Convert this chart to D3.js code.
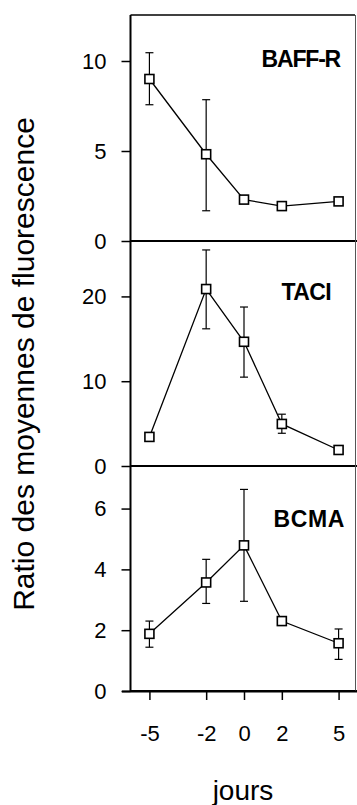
<!DOCTYPE html>
<html>
<head>
<meta charset="utf-8">
<script src="https://cdnjs.cloudflare.com/ajax/libs/d3/7.8.5/d3.min.js"></script>
<style>
  body { margin: 0; background: #fff; }
  svg { display: block; font-family: Arial, "Liberation Sans", sans-serif; }
</style>
</head>
<body>
<script>
const days = [-5, -2, 0, 2, 5];
const xTicks = [-5, -2, 0, 2, 5];

// BAFF-R
const baffMean = [9.0, 4.82, 2.3, 1.94, 2.2];
const baffHi = [10.46, 7.85, null, null, null];
const baffLo = [7.57, 1.68, null, null, null];
// TACI
const taciMean = [3.43, 20.87, 14.65, 4.96, 1.89];
const taciHi = [null, 25.48, 18.75, 6.11, null];
const taciLo = [null, 16.18, 10.48, 3.86, null];
// BCMA
const bcmaMean = [1.88, 3.57, 4.79, 2.3, 1.57];
const bcmaHi = [2.3, 4.33, 6.63, null, 2.04];
const bcmaLo = [1.44, 2.88, 2.95, null, 1.04];

const w = 357, h = 805;
const left = 130.5, right = 357.5;

const panels = [
  {name: "BAFF-R", mean: baffMean, hi: baffHi, lo: baffLo, max: 12.5, ticks: [0, 5, 10], top: 16, bottom: 241, titleX: 340, titleDy: 51, ls: -1.2},
  {name: "TACI", mean: taciMean, hi: taciHi, lo: taciLo, max: 26.3, ticks: [0, 10, 20], top: 243, bottom: 466, titleX: 331, titleDy: 57, ls: -0.6},
  {name: "BCMA", mean: bcmaMean, hi: bcmaHi, lo: bcmaLo, max: 7.4, ticks: [0, 2, 4, 6], top: 466, bottom: 691, titleX: 345, titleDy: 61, ls: 0.6}
];

const svg = d3.select("body").append("svg")
  .attr("width", w)
  .attr("height", h);

const x = d3.scaleLinear().domain([-6, 6]).range([left, right]);

panels.forEach(p => {
  const y = d3.scaleLinear().domain([0, p.max]).range([p.bottom, p.top]);

  const yAxis = d3.axisLeft(y).tickValues(p.ticks).tickSize(9).tickPadding(15).tickFormat(d => String(d));
  const g = svg.append("g").attr("transform", "translate(" + left + ",0)").call(yAxis);
  g.select(".domain").remove();
  g.selectAll("line").attr("stroke", "#000").attr("stroke-width", 1.5);
  g.selectAll("text").attr("font-size", 22).attr("fill", "#000")
    .attr("font-family", "Arial, 'Liberation Sans', sans-serif");

  // zero line across the panel
  svg.append("line")
    .attr("x1", left).attr("x2", w)
    .attr("y1", y(0)).attr("y2", y(0))
    .attr("stroke", "#000").attr("stroke-width", 2);

  // error bars
  const eb = days.map((d, i) => ({d: d, hi: p.hi[i], lo: p.lo[i]})).filter(e => e.hi != null);
  const eg = svg.append("g");
  eg.selectAll("line.v").data(eb).enter().append("line")
    .attr("x1", e => x(e.d)).attr("x2", e => x(e.d))
    .attr("y1", e => y(e.lo)).attr("y2", e => y(e.hi))
    .attr("stroke", "#000").attr("stroke-width", 1.2);
  eg.selectAll("line.t").data(eb).enter().append("line")
    .attr("x1", e => x(e.d) - 4).attr("x2", e => x(e.d) + 4)
    .attr("y1", e => y(e.hi)).attr("y2", e => y(e.hi))
    .attr("stroke", "#000").attr("stroke-width", 1.2);
  eg.selectAll("line.b").data(eb).enter().append("line")
    .attr("x1", e => x(e.d) - 4).attr("x2", e => x(e.d) + 4)
    .attr("y1", e => y(e.lo)).attr("y2", e => y(e.lo))
    .attr("stroke", "#000").attr("stroke-width", 1.2);

  // line
  const line = d3.line().x((v, i) => x(days[i])).y(v => y(v));
  svg.append("path")
    .datum(p.mean)
    .attr("d", line)
    .attr("fill", "none")
    .attr("stroke", "#000")
    .attr("stroke-width", 1.3);

  // square markers
  svg.append("g").selectAll("rect").data(p.mean).enter().append("rect")
    .attr("x", (v, i) => x(days[i]) - 4.5)
    .attr("y", v => y(v) - 4.5)
    .attr("width", 9).attr("height", 9)
    .attr("fill", "#fff").attr("stroke", "#000").attr("stroke-width", 1.6);

  svg.append("text")
    .attr("x", p.titleX).attr("y", p.top + p.titleDy)
    .attr("text-anchor", "end")
    .attr("font-size", 23).attr("font-weight", "bold")
    .attr("letter-spacing", p.ls)
    .text(p.name);
});

// frame
svg.append("line").attr("x1", left).attr("x2", left).attr("y1", 15).attr("y2", 691)
  .attr("stroke", "#000").attr("stroke-width", 2);
svg.append("line").attr("x1", left).attr("x2", 355).attr("y1", 15).attr("y2", 15)
  .attr("stroke", "#000").attr("stroke-width", 1.5);
svg.append("line").attr("x1", 355.5).attr("x2", 355.5).attr("y1", 15).attr("y2", 691)
  .attr("stroke", "#555").attr("stroke-width", 1);
svg.append("line").attr("x1", 122).attr("x2", w).attr("y1", 691.5).attr("y2", 691.5)
  .attr("stroke", "#000").attr("stroke-width", 2);

// x axis
const xAxis = d3.axisBottom(x).tickValues(xTicks).tickSize(8).tickPadding(25).tickFormat(d => String(d));
const xg = svg.append("g").attr("transform", "translate(0,692)").call(xAxis);
xg.select(".domain").remove();
xg.selectAll("line").attr("stroke", "#000").attr("stroke-width", 1.5);
xg.selectAll("text").attr("font-size", 22).attr("fill", "#000")
  .attr("font-family", "Arial, 'Liberation Sans', sans-serif");

// axis titles
svg.append("text")
  .attr("x", 243).attr("y", 800)
  .attr("text-anchor", "middle")
  .attr("font-size", 28)
  .text("jours");

svg.append("text")
  .attr("transform", "translate(34,364) rotate(-90)")
  .attr("text-anchor", "middle")
  .attr("font-size", 30)
  .text("Ratio des moyennes de fluorescence");
</script>
</body>
</html>
